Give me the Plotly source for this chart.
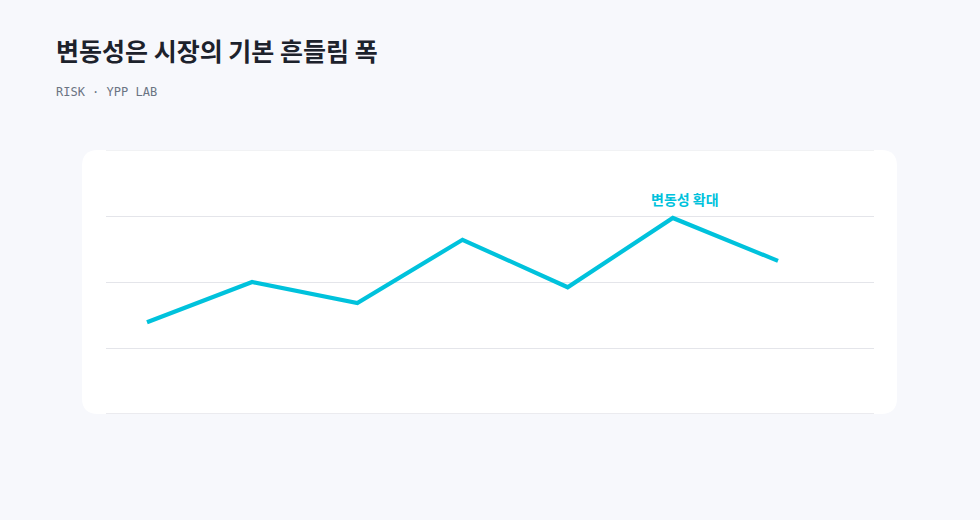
import plotly.graph_objects as go

periods = [1, 2, 3, 4, 5, 6, 7]
volatility = [13.9, 20.0, 16.8, 26.4, 19.2, 29.7, 23.2]
y_ticks = [0, 10, 20, 30, 40]
note_text = "변동성 확대"
note_index = 5
title_text = "변동성은 시장의 기본 흔들림 폭"
subtitle_text = "RISK · YPP LAB"

W, H = 980, 520
L, R, T, B = 106, 106, 150, 106
pw, ph = W - L - R, H - T - B

LINE = "#00c2dc"
GRID = "#e4e5ea"

fig = go.Figure()
fig.add_trace(go.Scatter(
    x=periods, y=volatility, mode="lines",
    line=dict(color=LINE, width=4.2),
    hoverinfo="skip", showlegend=False,
))

# x range: first point at 147px, last at 778px
step = (778 - 147) / (len(periods) - 1)
x0 = periods[0] - (147 - L) / step
x1 = periods[-1] + (L + pw - 778) / step

# rounded card
cx0 = (82 - L) / pw
cx1 = (897 - L) / pw
cy0, cy1 = 0.0, 1.0
rx, ry = 16 / pw, 16 / ph
path = (f"M {cx0+rx},{cy0} L {cx1-rx},{cy0} Q {cx1},{cy0} {cx1},{cy0+ry} "
        f"L {cx1},{cy1-ry} Q {cx1},{cy1} {cx1-rx},{cy1} "
        f"L {cx0+rx},{cy1} Q {cx0},{cy1} {cx0},{cy1-ry} "
        f"L {cx0},{cy0+ry} Q {cx0},{cy0} {cx0+rx},{cy0} Z")
fig.add_shape(type="path", path=path, xref="paper", yref="paper",
              fillcolor="#ffffff", line=dict(width=0), layer="below")

# edge gridlines (plotly omits gridlines at range ends)
for yv, w in ((y_ticks[0], 1.6), (y_ticks[-1], 1.2)):
    fig.add_shape(type="line", xref="paper", yref="y", x0=0, x1=1, y0=yv, y1=yv,
                  line=dict(color=GRID, width=w), layer="below")

fig.add_annotation(
    x=periods[note_index], y=volatility[note_index], xref="x", yref="y",
    text=f"<b>{note_text}</b>", showarrow=False, yshift=19, xshift=12,
    font=dict(family="Noto Sans CJK KR", size=14, color=LINE),
)

def to_plot_paper(px, py):
    return (px - L) / pw, 1 - (py - T) / ph

tx, ty = to_plot_paper(54, 50)
fig.add_annotation(
    x=tx, y=ty, xref="paper", yref="paper",
    xanchor="left", yanchor="middle", showarrow=False,
    text=f"<b>{title_text}</b>",
    font=dict(family="Noto Sans CJK KR", size=25, color="#1d222c"),
)
sx, sy = to_plot_paper(54, 92)
fig.add_annotation(
    x=sx, y=sy, xref="paper", yref="paper",
    xanchor="left", yanchor="middle", showarrow=False,
    text=subtitle_text,
    font=dict(family="DejaVu Sans Mono", size=12, color="#6b7483"),
)

fig.update_layout(
    width=W, height=H,
    margin=dict(l=L, r=R, t=T, b=B, pad=0),
    paper_bgcolor="#f7f8fc", plot_bgcolor="rgba(0,0,0,0)",
    xaxis=dict(range=[x0, x1], showgrid=False, zeroline=False,
               showticklabels=False, ticks="", fixedrange=True),
    yaxis=dict(range=[y_ticks[0], y_ticks[-1]], tickvals=y_ticks,
               showgrid=True, gridcolor=GRID, gridwidth=1,
               zeroline=False, showticklabels=False, ticks="", fixedrange=True),
)

fig.write_html("out.html")
